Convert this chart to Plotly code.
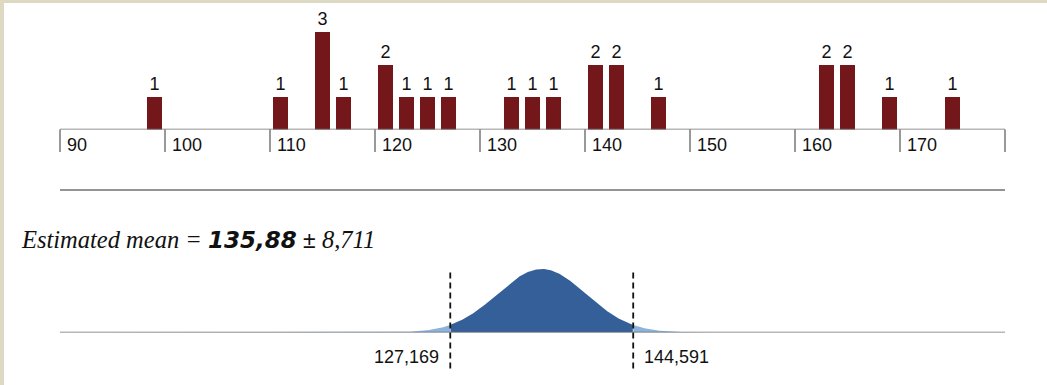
import numpy as np
import plotly.graph_objects as go

# Histogram of observations (bins of width 2, labelled by bin centre)
bin_centers = [99, 111, 115, 117, 121, 123, 125, 127, 133, 135, 137,
               141, 143, 147, 163, 165, 169, 175]
counts = [1, 1, 3, 1, 2, 1, 1, 1, 1, 1, 1, 2, 2, 1, 2, 2, 1, 1]

# Number line
tick_values = [90, 100, 110, 120, 130, 140, 150, 160, 170, 180]
tick_labels = ["90", "100", "110", "120", "130", "140", "150", "160", "170", ""]

# Estimate of the mean and its interval
mean_est = 135.88
half_width = 8.711
ci_low = 127.169
ci_high = 144.591
std_err = 4.22

W, H = 1047, 385
BAR_RED = "#73171B"
DARK_BLUE = "#345F99"
LIGHT_BLUE = "#8DB2DC"
AXIS_GREY = "#707070"
BEIGE = "#DDD9C3"
SANS = "Arial, Liberation Sans, sans-serif"
SERIF = "Times New Roman, Liberation Serif, serif"
WIDE_SANS = "Verdana, DejaVu Sans, sans-serif"


def py(pixel_y):
    """Convert a pixel row (from the top) to paper y."""
    return 1 - pixel_y / H


x_min, x_max = tick_values[0], tick_values[-1]
px_per_unit = 10.5
x_range = [x_min - 60 / px_per_unit, x_min + (W - 60) / px_per_unit]

fig = go.Figure()

# Histogram bars
fig.add_trace(go.Bar(
    x=bin_centers, y=counts, width=1.52,
    marker=dict(color=BAR_RED, line=dict(width=0)),
    text=[str(c) for c in counts], textposition="outside",
    textfont=dict(family=SANS, size=18, color="#111111"),
    cliponaxis=False, xaxis="x", yaxis="y", hoverinfo="skip",
))

# Sampling distribution of the mean
grid = np.linspace(x_min, x_max, 1801)
dens = np.exp(-0.5 * ((grid - mean_est) / std_err) ** 2) / (std_err * np.sqrt(2 * np.pi))
peak = 1 / (std_err * np.sqrt(2 * np.pi))

segments = [
    (grid <= ci_low, LIGHT_BLUE),
    ((grid >= ci_low) & (grid <= ci_high), DARK_BLUE),
    (grid >= ci_high, LIGHT_BLUE),
]
for mask, col in segments:
    fig.add_trace(go.Scatter(
        x=grid[mask], y=dens[mask], mode="lines", fill="tozeroy",
        line=dict(width=0, color=col), fillcolor=col,
        xaxis="x", yaxis="y2", hoverinfo="skip",
    ))

shapes = [
    # page edge strips
    dict(type="rect", xref="paper", yref="paper", x0=0, x1=4 / W, y0=0, y1=1,
         fillcolor=BEIGE, line=dict(width=0), layer="below"),
    dict(type="rect", xref="paper", yref="paper", x0=0, x1=1, y0=py(3), y1=1,
         fillcolor=BEIGE, line=dict(width=0), layer="below"),
    # number line under the histogram
    dict(type="line", xref="x", yref="y", x0=x_min, x1=x_max, y0=0, y1=0,
         line=dict(color=AXIS_GREY, width=1.5)),
    # separator
    dict(type="line", xref="x", yref="paper", x0=x_min, x1=x_max,
         y0=py(190), y1=py(190), line=dict(color=AXIS_GREY, width=1.5)),
    # baseline under the density
    dict(type="line", xref="x", yref="y2", x0=x_min, x1=x_max, y0=0, y1=0,
         line=dict(color=AXIS_GREY, width=1.5)),
]
for t in tick_values:
    shapes.append(dict(type="line", xref="x", yref="paper", x0=t, x1=t,
                       y0=py(129.5), y1=py(152),
                       line=dict(color="#555555", width=1.2)))
for b in (ci_low, ci_high):
    shapes.append(dict(type="line", xref="x", yref="paper", x0=b, x1=b,
                       y0=py(272.5), y1=py(370),
                       line=dict(color="#111111", width=1.8, dash="6px,4px")))

annotations = []
for t, lab in zip(tick_values, tick_labels):
    if lab:
        annotations.append(dict(
            x=t, y=py(145), xref="x", yref="paper", text=lab, showarrow=False,
            xanchor="left", yanchor="middle", xshift=5,
            font=dict(family=SANS, size=18, color="#111111"),
        ))

annotations.append(dict(
    x=ci_low, y=py(357), xref="x", yref="paper",
    text=f"{ci_low:.3f}".replace(".", ","), showarrow=False,
    xanchor="right", yanchor="middle", xshift=-9,
    font=dict(family=SANS, size=18, color="#111111"),
))
annotations.append(dict(
    x=ci_high, y=py(357), xref="x", yref="paper",
    text=f"{ci_high:.3f}".replace(".", ","), showarrow=False,
    xanchor="left", yanchor="middle", xshift=9,
    font=dict(family=SANS, size=18, color="#111111"),
))

mean_txt = f"{mean_est:.2f}".replace(".", ",")
hw_txt = f"{half_width:.3f}".replace(".", ",")
headline = (
    f"<i>Estimated mean = </i>"
    f"<span style='font-family:{WIDE_SANS};font-size:23px'><b><i>{mean_txt}</i></b></span>"
    f"<span style='font-family:{SANS};font-size:23px'> ±</span>"
    f" <i>{hw_txt}</i>"
)
annotations.append(dict(
    x=19 / W, y=py(239), xref="paper", yref="paper", text=headline,
    showarrow=False, xanchor="left", yanchor="middle",
    font=dict(family=SERIF, size=24.5, color="#111111"),
))

fig.update_layout(
    width=W, height=H,
    margin=dict(l=0, r=0, t=0, b=0, pad=0),
    paper_bgcolor="white", plot_bgcolor="rgba(0,0,0,0)",
    showlegend=False,
    xaxis=dict(range=x_range, domain=[0, 1], visible=False, fixedrange=True),
    yaxis=dict(range=[0, 129.5 / 32.5], domain=[py(129.5), 1], visible=False,
               fixedrange=True),
    yaxis2=dict(range=[0, peak], domain=[py(332.5), py(269)], visible=False,
                fixedrange=True),
    shapes=shapes,
    annotations=annotations,
    bargap=0,
)

fig.write_html("out.html", config={"displayModeBar": False})
